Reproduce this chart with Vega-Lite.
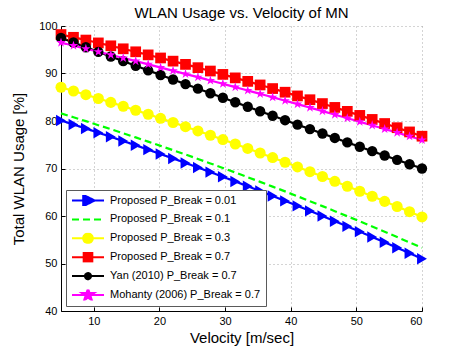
{
  "$schema": "https://vega.github.io/schema/vega-lite/v6.json",
  "autosize": "none",
  "width": 361,
  "height": 285,
  "padding": {"left": 61, "top": 26, "right": 44, "bottom": 39},
  "background": "white",
  "title": {"text": "WLAN Usage vs. Velocity of MN", "font": "Liberation Sans", "fontSize": 15, "fontWeight": "normal", "color": "black", "frame": "group", "offset": -1},
  "config": {
    "view": {"stroke": null},
    "axis": {
      "domainColor": "black", "tickColor": "black", "labelColor": "black", "titleColor": "black",
      "labelFont": "Liberation Sans", "titleFont": "Liberation Sans", "labelFontSize": 11, "titleFontSize": 15,
      "titleFontWeight": "normal", "gridColor": "#a8a8a8", "gridDash": [1, 3], "gridWidth": 1,
      "tickSize": -4, "labelPadding": 8
    }
  },
  "data": {"values": [
    {"s":"p001","v":5,"u":80.10},{"s":"p001","v":6.9,"u":79.26},{"s":"p001","v":8.79,"u":78.41},{"s":"p001","v":10.69,"u":77.54},{"s":"p001","v":12.59,"u":76.67},{"s":"p001","v":14.48,"u":75.78},{"s":"p001","v":16.38,"u":74.88},{"s":"p001","v":18.28,"u":73.97},{"s":"p001","v":20.17,"u":73.04},{"s":"p001","v":22.07,"u":72.11},{"s":"p001","v":23.97,"u":71.17},{"s":"p001","v":25.86,"u":70.21},{"s":"p001","v":27.76,"u":69.24},{"s":"p001","v":29.66,"u":68.26},{"s":"p001","v":31.55,"u":67.27},{"s":"p001","v":33.45,"u":66.26},{"s":"p001","v":35.34,"u":65.25},{"s":"p001","v":37.24,"u":64.22},{"s":"p001","v":39.14,"u":63.18},{"s":"p001","v":41.03,"u":62.13},{"s":"p001","v":42.93,"u":61.07},{"s":"p001","v":44.83,"u":60.00},{"s":"p001","v":46.72,"u":58.91},{"s":"p001","v":48.62,"u":57.82},{"s":"p001","v":50.52,"u":56.71},{"s":"p001","v":52.41,"u":55.59},{"s":"p001","v":54.31,"u":54.46},{"s":"p001","v":56.21,"u":53.32},{"s":"p001","v":58.1,"u":52.16},{"s":"p001","v":60,"u":51.00},
    {"s":"p01","v":5,"u":81.60},{"s":"p01","v":6.9,"u":80.79},{"s":"p01","v":8.79,"u":79.97},{"s":"p01","v":10.69,"u":79.12},{"s":"p01","v":12.59,"u":78.28},{"s":"p01","v":14.48,"u":77.42},{"s":"p01","v":16.38,"u":76.55},{"s":"p01","v":18.28,"u":75.66},{"s":"p01","v":20.17,"u":74.76},{"s":"p01","v":22.07,"u":73.86},{"s":"p01","v":23.97,"u":72.95},{"s":"p01","v":25.86,"u":72.01},{"s":"p01","v":27.76,"u":71.07},{"s":"p01","v":29.66,"u":70.12},{"s":"p01","v":31.55,"u":69.16},{"s":"p01","v":33.45,"u":68.17},{"s":"p01","v":35.34,"u":67.19},{"s":"p01","v":37.24,"u":66.19},{"s":"p01","v":39.14,"u":65.18},{"s":"p01","v":41.03,"u":64.15},{"s":"p01","v":42.93,"u":63.12},{"s":"p01","v":44.83,"u":62.08},{"s":"p01","v":46.72,"u":61.02},{"s":"p01","v":48.62,"u":59.95},{"s":"p01","v":50.52,"u":58.87},{"s":"p01","v":52.41,"u":57.78},{"s":"p01","v":54.31,"u":56.68},{"s":"p01","v":56.21,"u":55.57},{"s":"p01","v":58.1,"u":54.43},{"s":"p01","v":60,"u":53.30},
    {"s":"p03","v":5,"u":87.10},{"s":"p03","v":6.9,"u":86.32},{"s":"p03","v":8.79,"u":85.54},{"s":"p03","v":10.69,"u":84.74},{"s":"p03","v":12.59,"u":83.92},{"s":"p03","v":14.48,"u":83.10},{"s":"p03","v":16.38,"u":82.26},{"s":"p03","v":18.28,"u":81.42},{"s":"p03","v":20.17,"u":80.56},{"s":"p03","v":22.07,"u":79.69},{"s":"p03","v":23.97,"u":78.80},{"s":"p03","v":25.86,"u":77.91},{"s":"p03","v":27.76,"u":77.00},{"s":"p03","v":29.66,"u":76.09},{"s":"p03","v":31.55,"u":75.16},{"s":"p03","v":33.45,"u":74.22},{"s":"p03","v":35.34,"u":73.26},{"s":"p03","v":37.24,"u":72.30},{"s":"p03","v":39.14,"u":71.32},{"s":"p03","v":41.03,"u":70.33},{"s":"p03","v":42.93,"u":69.33},{"s":"p03","v":44.83,"u":68.32},{"s":"p03","v":46.72,"u":67.30},{"s":"p03","v":48.62,"u":66.26},{"s":"p03","v":50.52,"u":65.21},{"s":"p03","v":52.41,"u":64.16},{"s":"p03","v":54.31,"u":63.08},{"s":"p03","v":56.21,"u":62.00},{"s":"p03","v":58.1,"u":60.91},{"s":"p03","v":60,"u":59.80},
    {"s":"p07","v":5,"u":98.20},{"s":"p07","v":6.9,"u":97.62},{"s":"p07","v":8.79,"u":97.04},{"s":"p07","v":10.69,"u":96.44},{"s":"p07","v":12.59,"u":95.83},{"s":"p07","v":14.48,"u":95.20},{"s":"p07","v":16.38,"u":94.57},{"s":"p07","v":18.28,"u":93.92},{"s":"p07","v":20.17,"u":93.27},{"s":"p07","v":22.07,"u":92.60},{"s":"p07","v":23.97,"u":91.92},{"s":"p07","v":25.86,"u":91.23},{"s":"p07","v":27.76,"u":90.52},{"s":"p07","v":29.66,"u":89.81},{"s":"p07","v":31.55,"u":89.08},{"s":"p07","v":33.45,"u":88.34},{"s":"p07","v":35.34,"u":87.59},{"s":"p07","v":37.24,"u":86.83},{"s":"p07","v":39.14,"u":86.06},{"s":"p07","v":41.03,"u":85.28},{"s":"p07","v":42.93,"u":84.48},{"s":"p07","v":44.83,"u":83.67},{"s":"p07","v":46.72,"u":82.86},{"s":"p07","v":48.62,"u":82.03},{"s":"p07","v":50.52,"u":81.18},{"s":"p07","v":52.41,"u":80.33},{"s":"p07","v":54.31,"u":79.47},{"s":"p07","v":56.21,"u":78.59},{"s":"p07","v":58.1,"u":77.70},{"s":"p07","v":60,"u":76.80},
    {"s":"yan","v":5,"u":97.50},{"s":"yan","v":6.9,"u":96.52},{"s":"yan","v":8.79,"u":95.53},{"s":"yan","v":10.69,"u":94.55},{"s":"yan","v":12.59,"u":93.58},{"s":"yan","v":14.48,"u":92.60},{"s":"yan","v":16.38,"u":91.63},{"s":"yan","v":18.28,"u":90.66},{"s":"yan","v":20.17,"u":89.69},{"s":"yan","v":22.07,"u":88.73},{"s":"yan","v":23.97,"u":87.77},{"s":"yan","v":25.86,"u":86.81},{"s":"yan","v":27.76,"u":85.85},{"s":"yan","v":29.66,"u":84.90},{"s":"yan","v":31.55,"u":83.95},{"s":"yan","v":33.45,"u":83.00},{"s":"yan","v":35.34,"u":82.05},{"s":"yan","v":37.24,"u":81.11},{"s":"yan","v":39.14,"u":80.17},{"s":"yan","v":41.03,"u":79.23},{"s":"yan","v":42.93,"u":78.29},{"s":"yan","v":44.83,"u":77.36},{"s":"yan","v":46.72,"u":76.43},{"s":"yan","v":48.62,"u":75.50},{"s":"yan","v":50.52,"u":74.58},{"s":"yan","v":52.41,"u":73.65},{"s":"yan","v":54.31,"u":72.73},{"s":"yan","v":56.21,"u":71.82},{"s":"yan","v":58.1,"u":70.90},{"s":"yan","v":60,"u":70.00},
    {"s":"moh","v":5,"u":96.50},{"s":"moh","v":6.9,"u":95.86},{"s":"moh","v":8.79,"u":95.22},{"s":"moh","v":10.69,"u":94.58},{"s":"moh","v":12.59,"u":93.92},{"s":"moh","v":14.48,"u":93.27},{"s":"moh","v":16.38,"u":92.61},{"s":"moh","v":18.28,"u":91.94},{"s":"moh","v":20.17,"u":91.27},{"s":"moh","v":22.07,"u":90.59},{"s":"moh","v":23.97,"u":89.91},{"s":"moh","v":25.86,"u":89.22},{"s":"moh","v":27.76,"u":88.53},{"s":"moh","v":29.66,"u":87.83},{"s":"moh","v":31.55,"u":87.13},{"s":"moh","v":33.45,"u":86.43},{"s":"moh","v":35.34,"u":85.71},{"s":"moh","v":37.24,"u":85.00},{"s":"moh","v":39.14,"u":84.28},{"s":"moh","v":41.03,"u":83.55},{"s":"moh","v":42.93,"u":82.82},{"s":"moh","v":44.83,"u":82.08},{"s":"moh","v":46.72,"u":81.34},{"s":"moh","v":48.62,"u":80.59},{"s":"moh","v":50.52,"u":79.84},{"s":"moh","v":52.41,"u":79.08},{"s":"moh","v":54.31,"u":78.32},{"s":"moh","v":56.21,"u":77.55},{"s":"moh","v":58.1,"u":76.78},{"s":"moh","v":60,"u":76.00}
  ]},
  "encoding": {
    "x": {"field": "v", "type": "quantitative", "scale": {"domain": [5, 60], "nice": false, "zero": false},
          "axis": {"values": [10, 20, 30, 40, 50, 60], "title": "Velocity [m/sec]", "titlePadding": 4}},
    "y": {"field": "u", "type": "quantitative", "scale": {"domain": [40, 100], "nice": false, "zero": false},
          "axis": {"values": [40, 50, 60, 70, 80, 90, 100], "title": "Total WLAN Usage [%]", "titlePadding": 12}},
    "color": {"field": "s", "type": "nominal",
      "scale": {"domain": ["p001", "p01", "p03", "p07", "yan", "moh"], "range": ["#0000ff", "#00ff00", "#ffff00", "#ff0000", "#000000", "#ff00ff"]},
      "legend": {
        "title": null, "orient": "bottom-left", "offset": 5,
        "fillColor": "white", "strokeColor": "#5a5a5a", "padding": 5,
        "labelFont": "Liberation Sans", "labelFontSize": 11, "labelColor": "black", "labelOffset": 5, "labelLimit": 300,
        "symbolSize": 1024, "clipHeight": 11, "rowPadding": 6.9,
        "labelExpr": "datum.label == 'p001' ? 'Proposed P_Break = 0.01' : datum.label == 'p01' ? 'Proposed P_Break = 0.1' : datum.label == 'p03' ? 'Proposed P_Break = 0.3' : datum.label == 'p07' ? 'Proposed P_Break = 0.7' : datum.label == 'yan' ? 'Yan (2010) P_Break = 0.7' : 'Mohanty (2006) P_Break = 0.7'",
        "encode": {"symbols": {"update": {
          "shape": {"signal": "['M-1,0H1M-0.3,-0.36L0.42,0L-0.3,0.36Z', 'M-1,0H1', 'M-1,0H1M-0.3,0A0.3,0.3 0 1,1 0.3,0A0.3,0.3 0 1,1 -0.3,0Z', 'M-1,0H1M-0.27,-0.27H0.27V0.27H-0.27Z', 'M-1,0H1M-0.19,0A0.19,0.19 0 1,1 0.19,0A0.19,0.19 0 1,1 -0.19,0Z', 'M-1,0H1M0,-0.42L0.094,-0.13L0.399,-0.13L0.152,0.05L0.247,0.34L0,0.16L-0.247,0.34L-0.152,0.05L-0.399,-0.13L-0.094,-0.13Z'][datum.index]"},
          "fill": {"signal": "datum.index === 1 ? 'transparent' : scale('color', datum.value)"},
          "stroke": {"signal": "scale('color', datum.value)"},
          "strokeWidth": {"value": 2},
          "strokeDash": {"signal": "datum.index === 1 ? [7, 4] : [1, 0]"},
          "opacity": {"value": 1},
          "size": {"value": 1024}
        }}}
      }}
  },
  "layer": [
    {
      "mark": {"type": "line", "strokeWidth": 2.2},
      "encoding": {
        "strokeDash": {"field": "s", "type": "nominal",
          "scale": {"domain": ["p001", "p01", "p03", "p07", "yan", "moh"], "range": [[1, 0], [7, 4], [1, 0], [1, 0], [1, 0], [1, 0]]},
          "legend": null}
      }
    },
    {
      "transform": [{"filter": "datum.s !== 'p01'"}],
      "mark": {"type": "point", "filled": true, "opacity": 1},
      "encoding": {
        "shape": {"field": "s", "type": "nominal",
          "scale": {"domain": ["p001", "p03", "p07", "yan", "moh"], "range": ["triangle-right", "circle", "square", "circle", "M0,-1L0.2245,-0.309L0.951,-0.309L0.363,0.118L0.588,0.809L0,0.382L-0.588,0.809L-0.363,0.118L-0.951,-0.309L-0.2245,-0.309Z"]},
          "legend": null},
        "size": {"field": "s", "type": "nominal",
          "scale": {"domain": ["p001", "p03", "p07", "yan", "moh"], "range": [130, 100, 81, 42, 169]},
          "legend": null}
      }
    }
  ]
}
